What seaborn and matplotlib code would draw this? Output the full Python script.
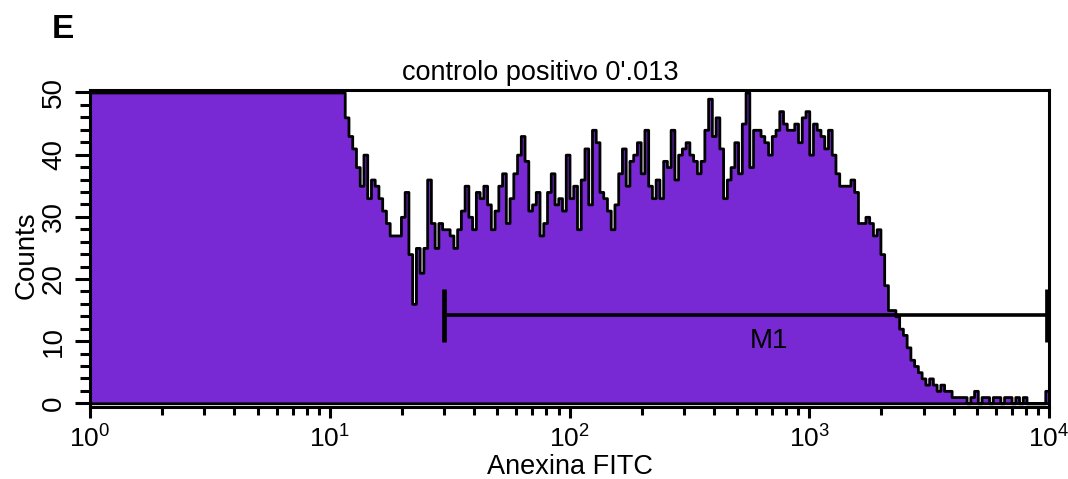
import numpy as np
import pandas as pd
import matplotlib
matplotlib.use("Agg")
import matplotlib.pyplot as plt
import seaborn as sns
from matplotlib import font_manager
from matplotlib.ticker import LogLocator, MultipleLocator, LogFormatterSciNotation, NullFormatter

# ---- data: Annexin-FITC histogram, 256 log channels over 10^0 .. 10^4 ----
n_channels = 256
log_decades = 4
# counts per channel (values above the 50-count axis limit shown as 50)
counts_low = [50] * 68
counts_high = [
    46, 43, 41, 38, 35, 40, 33, 36, 35, 33, 31, 29, 27, 27, 27, 30, 34, 24, 16, 25,   # 68-87
    21, 25, 36, 29, 25, 29, 28, 28, 27, 25, 28, 31, 35, 30, 28, 34, 33, 35, 32, 28,   # 88-107
    31, 35, 37, 29, 33, 37, 40, 43, 39, 31, 32, 34, 27, 29, 34, 37, 32, 33, 31, 40,   # 108-127
    33, 35, 28, 36, 41, 32, 44, 42, 34, 33, 31, 28, 32, 37, 41, 35, 39, 40, 42, 37,   # 128-147
    44, 35, 33, 36, 33, 39, 38, 44, 36, 40, 41, 42, 40, 39, 37, 39, 44, 49, 43, 46,   # 148-167
    41, 33, 36, 38, 42, 37, 45, 50, 38, 44, 44, 43, 42, 40, 43, 44, 47, 45, 44, 44,   # 168-187
    45, 42, 46, 47, 40, 45, 44, 43, 41, 44, 40, 37, 35, 35, 35, 36, 34, 29, 29, 30,   # 188-207
    29, 27, 28, 24, 19, 15, 15, 14, 12, 11, 9, 7, 6, 5, 4, 3, 4, 3, 2, 3,             # 208-227
    2, 2, 1, 1, 1, 1, 0, 1, 2, 0, 1, 1, 0, 1, 1, 0, 1, 1, 0, 1,                       # 228-247
    0, 1, 0, 0, 0, 0, 0, 2,                                                           # 248-255
]
counts = counts_low + counts_high
channel = np.arange(n_channels)
fitc = 10 ** ((channel + 0.5) * log_decades / n_channels)

# M1 marker (gate) range and level
m1_lo, m1_hi = 30, 9840
m1_level = 14.2
m1_half_low, m1_half_high = 4.4, 4.2
m1_label_x, m1_label_y = 680, 10

title = "controlo positivo 0'.013"
panel = "E"
xlabel = "Anexina FITC"
ylabel = "Counts"

fill_color = "#7829D4"

# ---- style ----
sns.set_style("ticks")
installed = {f.name for f in font_manager.fontManager.ttflist}
narrow = "Liberation Sans Narrow" if "Liberation Sans Narrow" in installed else "Liberation Sans"
plt.rcParams["font.family"] = [narrow, "DejaVu Sans"]
plt.rcParams["mathtext.fontset"] = "custom"
plt.rcParams["mathtext.rm"] = narrow
plt.rcParams["mathtext.it"] = narrow
plt.rcParams["mathtext.bf"] = narrow
for key in ["text.color", "axes.labelcolor", "xtick.color", "ytick.color", "axes.edgecolor"]:
    plt.rcParams[key] = "black"

fig = plt.figure(figsize=(10.68, 4.79), dpi=100)
ax = fig.add_axes([90 / 1068, 1 - 407 / 479, 959 / 1068, 317 / 479])

df = pd.DataFrame({"fitc": fitc, "counts": counts})
sns.histplot(
    data=df, x="fitc", weights="counts", bins=n_channels, binrange=(0, log_decades),
    log_scale=True, element="step", fill=True, color=fill_color, alpha=1,
    edgecolor="black", linewidth=2.0, ax=ax,
)

ax.set_xlim(10 ** 0, 10 ** log_decades)
ax.set_ylim(-0.6, 50.4)

# M1 gate
ax.hlines(m1_level, m1_lo, m1_hi, color="black", lw=2.6, zorder=5)
ax.vlines([m1_lo, m1_hi], m1_level - m1_half_low, m1_level + m1_half_high,
          color="black", lw=3.4, zorder=5)
ax.text(m1_label_x, m1_label_y, "M1", ha="center", va="center",
        fontsize=20, family="Liberation Sans", color="black", zorder=6)

# axes decoration
for s in ax.spines.values():
    s.set_linewidth(2.2)
    s.set_color("black")

ax.xaxis.set_major_locator(LogLocator(base=10, numticks=10))
ax.xaxis.set_minor_locator(LogLocator(base=10, subs=np.arange(2, 10), numticks=20))
ax.xaxis.set_major_formatter(LogFormatterSciNotation())
ax.xaxis.set_minor_formatter(NullFormatter())
ax.yaxis.set_major_locator(MultipleLocator(10))
ax.yaxis.set_minor_locator(MultipleLocator(2))

ax.tick_params(axis="x", which="major", length=8, width=2.2, labelsize=19, pad=5, direction="out")
ax.tick_params(axis="x", which="minor", length=5.5, width=2.2, direction="out")
ax.tick_params(axis="y", which="major", length=10.5, width=2.2, labelsize=20, pad=6,
               direction="out", labelrotation=90)
ax.tick_params(axis="y", which="minor", length=7, width=2.2, direction="out")
for lab in ax.get_yticklabels():
    lab.set_verticalalignment("center")

ax.set_xlabel(xlabel, fontsize=19.5, family="Liberation Sans")
ax.xaxis.set_label_coords(0.5, (407 - 454) / 317)
ax.set_ylabel(ylabel, fontsize=20)
ax.yaxis.set_label_coords((40 - 90) / 959, (407 - 255) / 317)

fig.text(540 / 1068, 1 - 80 / 479, title, ha="center", va="baseline",
         fontsize=19.5, family="Liberation Sans")
fig.text(52 / 1068, 1 - 38 / 479, panel, ha="left", va="baseline",
         fontsize=24, fontweight="bold", family="Liberation Sans")

fig.savefig("out.png", dpi=100)
